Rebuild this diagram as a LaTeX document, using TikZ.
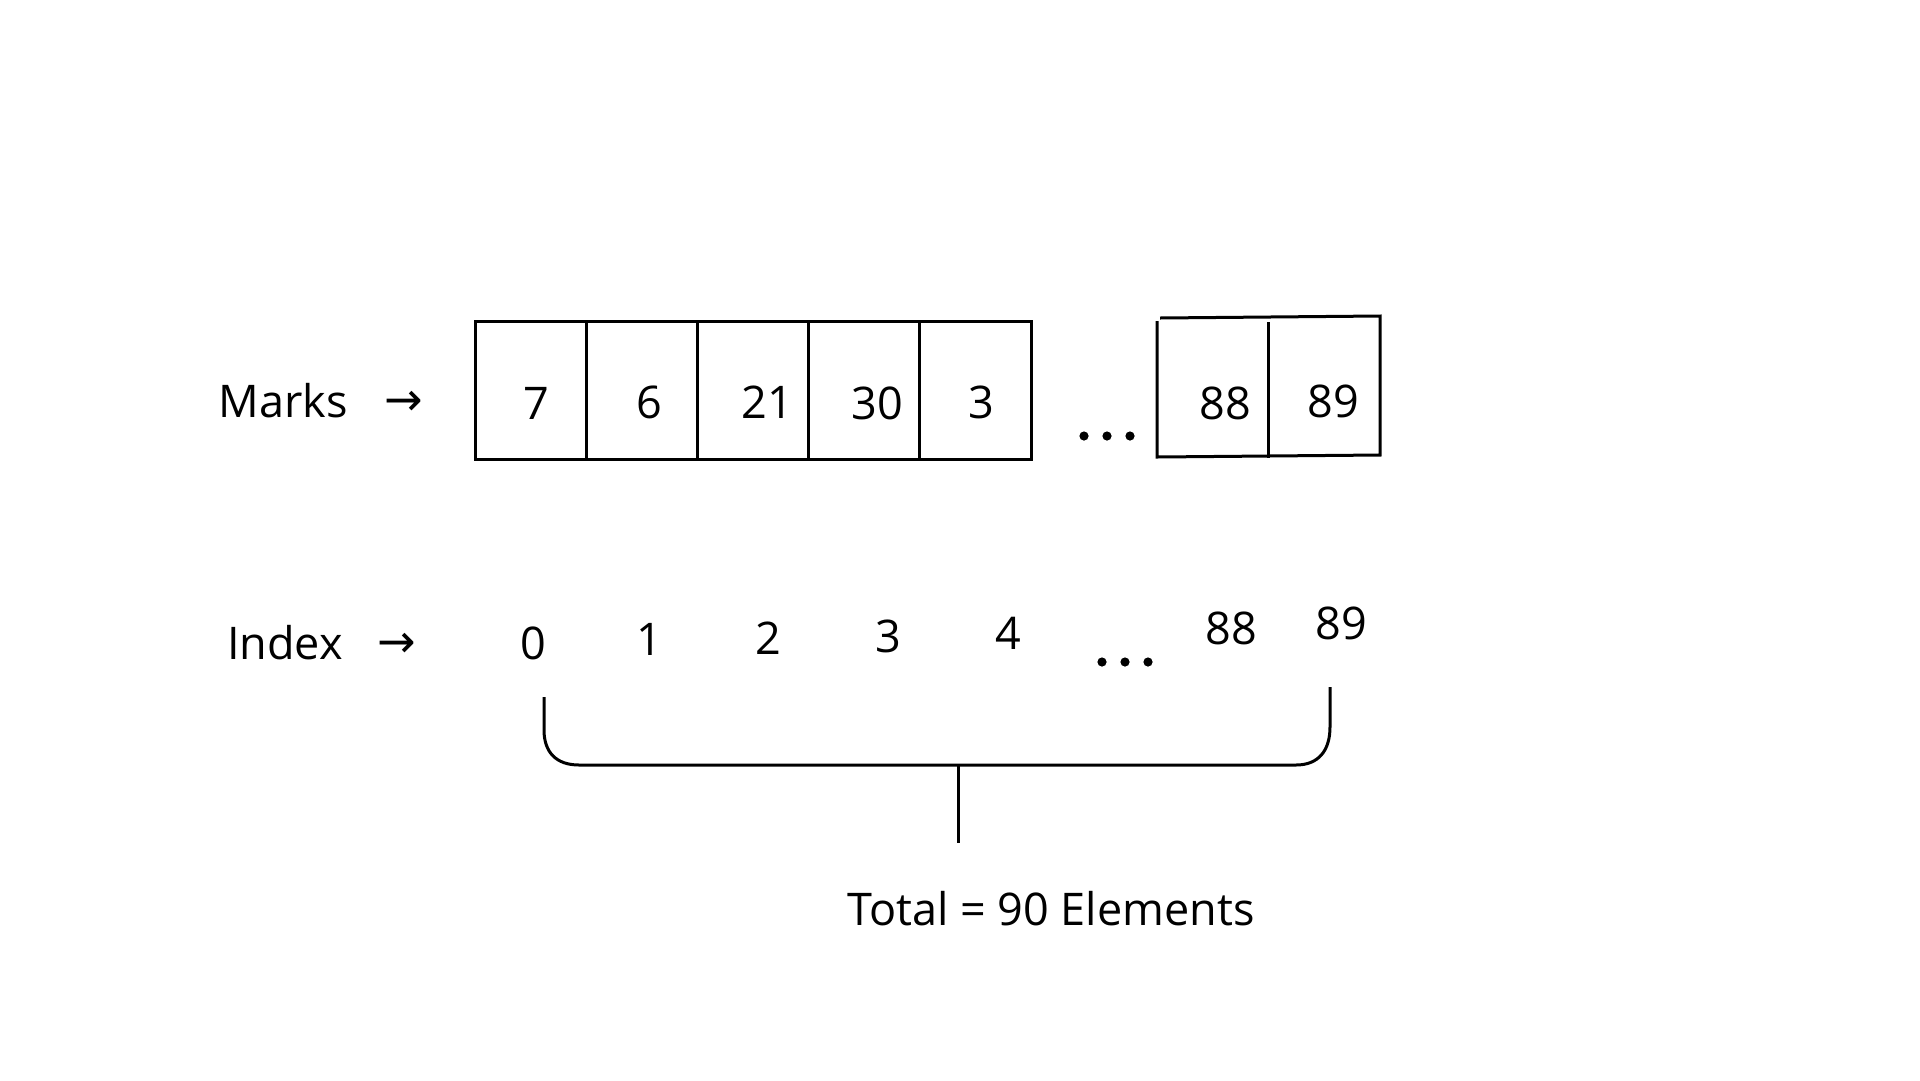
\documentclass[tikz,border=0pt]{standalone}
\usepackage{fontspec}
\setmainfont{Open Sans}
\newfontfamily\arrowfont{DejaVu Sans}
\begin{document}
\begin{tikzpicture}[x=1pt,y=-1pt,
  lbl/.style={inner sep=0pt, font=\fontsize{45}{52}\selectfont},
  arr/.style={inner sep=0pt, font=\arrowfont\fontsize{46}{50}\selectfont},
  cell/.style={draw, line width=3pt, minimum width=111.2pt, minimum height=138pt, inner sep=0pt, outer sep=0pt},
  ln/.style={line width=3pt},
  dot/.style={fill=black}]
\useasboundingbox[fill=white] (0,0) rectangle (1920,1080);

% labels
\node[lbl] (marks) at (283,401) {Marks};
\node[arr] (marr) at (404,403) {→};
\node[lbl] (index) at (285,643) {Index};
\node[arr] (iarr) at (397,645) {→};

% first block of cells
\node[cell, anchor=north west] (c0) at (475,321) {};
\node[cell, anchor=west] (c1) at (c0.east) {};
\node[cell, anchor=west] (c2) at (c1.east) {};
\node[cell, anchor=west] (c3) at (c2.east) {};
\node[cell, anchor=west] (c4) at (c3.east) {};

\node[lbl] (v0) at (536,403) {7};
\node[lbl] (v1) at (649,402) {6};
\node[lbl] (v2) at (767,402) {21};
\node[lbl] (v3) at (877,403) {30};
\node[lbl] (v4) at (981,402) {3};

% dots row 1
\foreach \x in {1084,1107,1130} \fill[dot] (\x,436) circle (4.6);

% last two cells (slightly skewed)
\coordinate (b1) at (1157,457);
\coordinate (b2) at (1157,321);
\coordinate (t1) at (1160,318);
\coordinate (t2) at (1380,316);
\coordinate (b3) at (1380,455);
\coordinate (d1) at (1268,322);
\coordinate (d2) at (1268,458);
\draw[ln] (b2) -- (b1) -- (b3) -- (t2) -- (t1);
\draw[ln] (d1) -- (d2);
\node[lbl] (v88) at (1225,403) {88};
\node[lbl] (v89) at (1333,401) {89};

% index row
\node[lbl] (i0) at (533,643) {0};
\node[lbl] (i1) at (649,639) {1};
\node[lbl] (i2) at (768,638) {2};
\node[lbl] (i3) at (888,636) {3};
\node[lbl] (i4) at (1008,633) {4};
\foreach \x in {1102,1125,1148} \fill[dot] (\x,662) circle (4.6);
\node[lbl] (i88) at (1231,628) {88};
\node[lbl] (i89) at (1341,623) {89};

% brace
\coordinate (bl) at (544,697);
\coordinate (br) at (1330,687);
\coordinate (bm) at (958,765);
\coordinate (bs) at (958,843);
\draw[ln, line join=round] (bl) -- (544,730) .. controls (544,752) and (556,765) .. (579,765)
   -- (1296,765) .. controls (1319,765) and (1330,750) .. (1330,727) -- (br);
\draw[ln] (bm) -- (bs);

\node[lbl] (total) at (1051,909) {Total = 90 Elements};
\end{tikzpicture}
\end{document}
